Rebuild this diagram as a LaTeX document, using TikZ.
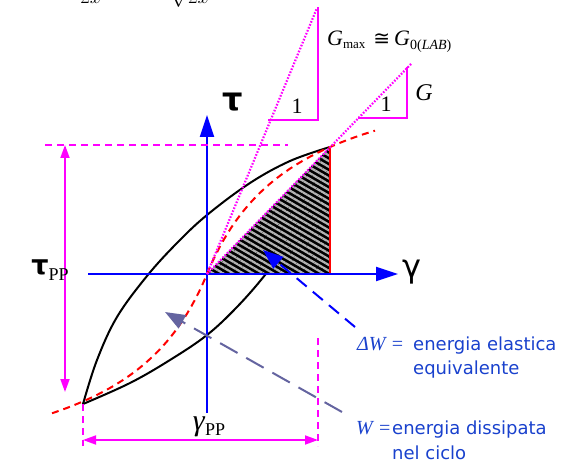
\documentclass[tikz,border=0pt]{standalone}
\usepackage{fontspec}
\setmainfont{DejaVu Sans}
\newfontfamily\tms{Liberation Serif}
\usetikzlibrary{arrows.meta,patterns.meta}
\definecolor{magen}{RGB}{255,0,255}
\definecolor{txtblue}{RGB}{25,65,205}
\definecolor{slate}{RGB}{100,100,160}
\begin{document}
\begin{tikzpicture}[x=1pt, y=-1pt,
  every node/.style={inner sep=0pt},
  axis/.style={blue, line width=2.2pt, -{Triangle[length=22pt,width=14pt]}},
  loopline/.style={black, line width=2pt},
  backbone/.style={red, line width=2pt, dash pattern=on 7pt off 5pt},
  secant/.style={magen, line width=2.2pt, dash pattern=on 1.6pt off 1.6pt},
  guide/.style={magen, line width=1.8pt, dash pattern=on 7pt off 5pt},
  span/.style={magen, line width=1.8pt, {Triangle[length=13pt,width=9pt]}-{Triangle[length=13pt,width=9pt]}},
  slopebox/.style={magen, line width=2.4pt},
  pointer/.style={line width=2pt, -{Triangle[length=20pt,width=15pt]}}]
  \useasboundingbox (0,0) rectangle (572,462);

  % key points of the loop
  \coordinate (O) at (207,274);
  \coordinate (P) at (330,147);
  \coordinate (Q) at (83,404);
  \coordinate (Pfoot) at (330,274);

  % cut-off formula at the top
  \node[anchor=base] (frA) at (91,4) {\fontsize{20}{20}\selectfont$2x$};
  \node[anchor=base] (frB) at (190,4) {\fontsize{20}{20}\selectfont$\sqrt{2x}$};

  % hysteresis loop
  \draw[loopline] plot[smooth, tension=0.6] coordinates {(83,404) (97,360) (117,317) (147,276) (177,243) (207,215) (250,183) (290,161) (330,147)};
  \draw[loopline] plot[smooth, tension=0.6] coordinates {(83,404) (130,383) (170,360) (207,335) (237,307) (265,275) (292,238) (314,196) (330,147)};

  % hatched area
  \fill[black] (O) -- (P) -- (Pfoot) -- cycle;
  \fill[pattern={Lines[angle=-30,distance=5pt,line width=2.2pt]}, pattern color=gray!60] (O) -- (P) -- (Pfoot) -- cycle;
  \draw[red, line width=2.2pt] (P) -- (Pfoot);

  % axes
  \coordinate (xa) at (88,274);
  \coordinate (xb) at (398,274);
  \coordinate (ya) at (207,413);
  \coordinate (yb) at (207,115);
  \draw[axis] (xa) -- (xb);
  \draw[axis] (ya) -- (yb);
  \node (tau) at (233,102) {\fontsize{32}{32}\selectfont\bfseries τ};
  \node (gam) at (412,272) {\fontsize{32}{32}\selectfont γ};

  % backbone curve
  \draw[backbone] plot[domain=-155:168, samples=80] ({207+\x},{274-2.42*\x/(1+abs(\x)/91.5)});

  % secant and tangent lines
  \coordinate (Gtop) at (317,8);
  \coordinate (Gsec) at (412,63);
  \draw[secant] (O) -- (Gtop);
  \draw[secant] (O) -- (Gsec);
  \draw[slopebox] (268,120) -- (318,120) -- (318,7);
  \draw[slopebox] (358,118) -- (407,118) -- (407,67);
  \node (one1) at (297,106) {\tms\fontsize{22}{22}\selectfont 1};
  \node (one2) at (386,104) {\tms\fontsize{22}{22}\selectfont 1};
  \node[anchor=base west] (Gmax) at (327,46) {\tms\fontsize{22}{22}\selectfont\textit{G}\raisebox{-3pt}{\fontsize{13}{13}\selectfont max}\hspace{8pt}{\rmfamily\fontsize{20}{20}\selectfont ≅}\hspace{4pt}\textit{G}\raisebox{-4pt}{\fontsize{14}{14}\selectfont 0(\textit{LAB})}};
  \node (G) at (424,93) {\tms\itshape\fontsize{24}{24}\selectfont G};

  % peak-to-peak amplitudes
  \coordinate (hl) at (45,145);
  \coordinate (hr) at (288,145);
  \draw[guide] (hl) -- (hr);
  \coordinate (vt) at (65,145);
  \coordinate (vb) at (65,392);
  \draw[span] (vt) -- (vb);
  \node (taupp) at (50,270) {\fontsize{27}{27}\selectfont\bfseries τ\tms\mdseries\fontsize{18}{18}\selectfont\raisebox{-6pt}{PP}};
  \coordinate (gl) at (83,440);
  \coordinate (gr) at (318,440);
  \draw[guide] (Q) -- (83,446);
  \draw[guide] (318,338) -- (318,446);
  \draw[span] (gl) -- (gr);
  \node (gampp) at (209,427) {\tms\fontsize{30}{30}\selectfont\textit{γ}\fontsize{18}{18}\selectfont\raisebox{-5pt}{PP}};

  % energy labels
  \coordinate (elasTail) at (355,327);
  \coordinate (elasTip) at (263,250);
  \draw[pointer, blue, dash pattern=on 13pt off 8pt] (elasTail) -- (elasTip);
  \coordinate (dissTail) at (342,412);
  \coordinate (dissTip) at (165,312);
  \draw[pointer, slate, dash pattern=on 20pt off 10pt] (dissTail) -- (dissTip);
  \node[anchor=base west, txtblue] (dW) at (357,350) {\tms\itshape\fontsize{20}{20}\selectfont ΔW =};
  \node[anchor=base west, txtblue] (elas1) at (413,350) {\fontsize{18}{18}\selectfont energia elastica};
  \node[anchor=base west, txtblue] (elas2) at (413,374) {\fontsize{18}{18}\selectfont equivalente};
  \node[anchor=base west, txtblue] (W) at (356,434) {\tms\itshape\fontsize{20}{20}\selectfont W =};
  \node[anchor=base west, txtblue] (diss1) at (392,434) {\fontsize{18}{18}\selectfont energia dissipata};
  \node[anchor=base west, txtblue] (diss2) at (392,459) {\fontsize{18}{18}\selectfont nel ciclo};
\end{tikzpicture}
\end{document}
